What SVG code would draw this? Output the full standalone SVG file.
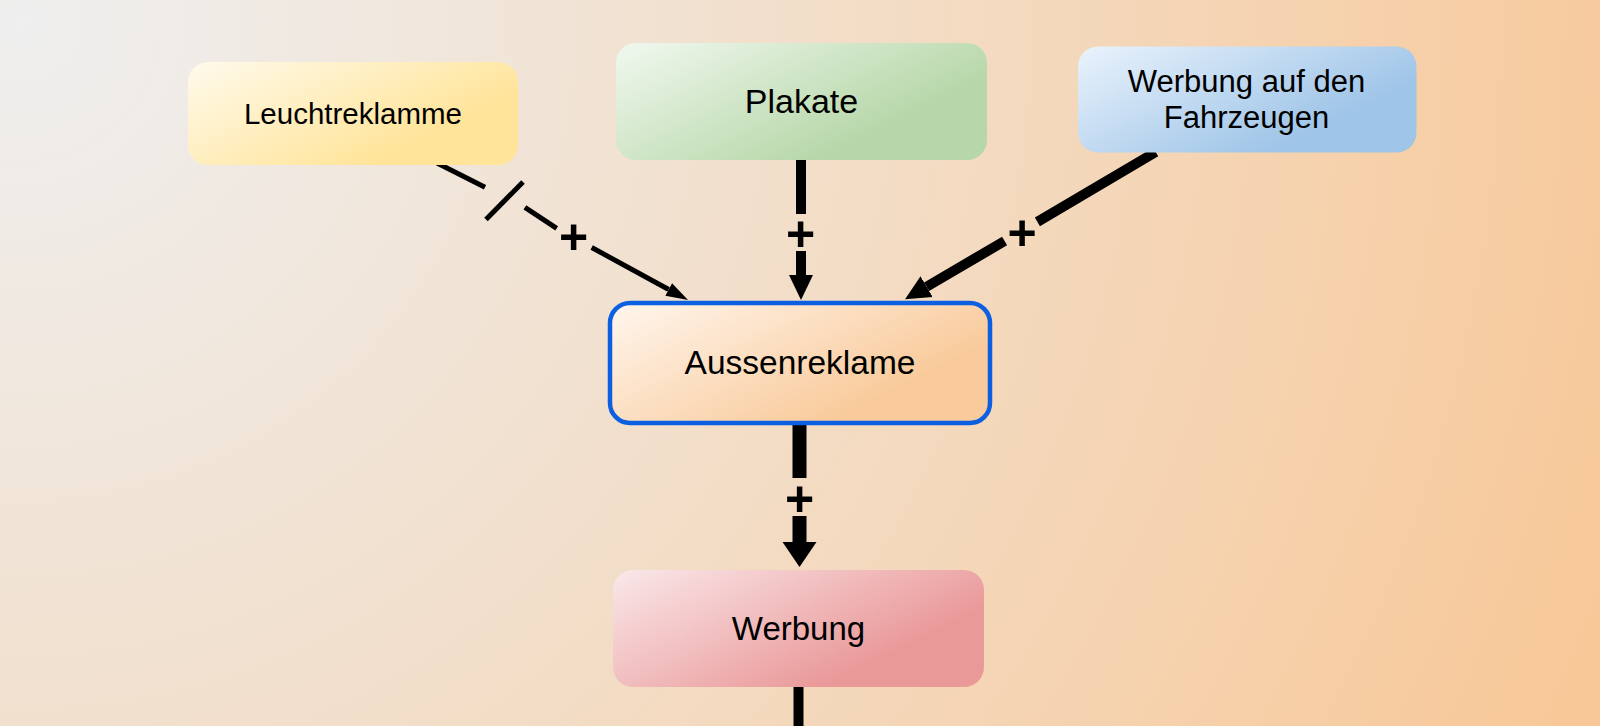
<svg xmlns="http://www.w3.org/2000/svg" width="1600" height="726" viewBox="0 0 1600 726">
  <defs>
    <radialGradient id="bg" gradientUnits="userSpaceOnUse" cx="20" cy="20" r="1700">
      <stop offset="0" stop-color="#efefef"/>
      <stop offset="0.45" stop-color="#f2dfcb"/>
      <stop offset="1" stop-color="#f8c898"/>
    </radialGradient>
    <linearGradient id="gYellow" x1="0" y1="0" x2="0.85" y2="0.55">
      <stop offset="0" stop-color="#fffaec"/>
      <stop offset="1" stop-color="#ffe499"/>
    </linearGradient>
    <linearGradient id="gGreen" x1="0" y1="0" x2="0.85" y2="0.55">
      <stop offset="0" stop-color="#f1f8ef"/>
      <stop offset="1" stop-color="#b6d7a8"/>
    </linearGradient>
    <linearGradient id="gBlue" x1="0" y1="0" x2="0.85" y2="0.55">
      <stop offset="0" stop-color="#eaf3fc"/>
      <stop offset="1" stop-color="#9fc5e8"/>
    </linearGradient>
    <linearGradient id="gOrange" x1="0" y1="0" x2="0.85" y2="0.55">
      <stop offset="0" stop-color="#fff6ee"/>
      <stop offset="1" stop-color="#f9cb9c"/>
    </linearGradient>
    <linearGradient id="gRed" x1="0" y1="0" x2="0.85" y2="0.55">
      <stop offset="0" stop-color="#fae8ea"/>
      <stop offset="1" stop-color="#ea9999"/>
    </linearGradient>
    <marker id="aThin" markerUnits="userSpaceOnUse" markerWidth="24" markerHeight="16" refX="0" refY="7" orient="auto" viewBox="0 0 24 14">
      <path d="M0,0 L22,7 L0,14 Z" fill="#000"/>
    </marker>
    <marker id="aMed" markerUnits="userSpaceOnUse" markerWidth="26" markerHeight="26" refX="0" refY="12" orient="auto" viewBox="0 0 26 24">
      <path d="M0,0 L25,12 L0,24 Z" fill="#000"/>
    </marker>
    <marker id="aBig" markerUnits="userSpaceOnUse" markerWidth="26" markerHeight="36" refX="0" refY="17" orient="auto" viewBox="0 0 26 34">
      <path d="M0,0 L25,17 L0,34 Z" fill="#000"/>
    </marker>
  </defs>
  <style>
    .node-text { font-family: "Liberation Sans", Arial, sans-serif; fill: #000; text-anchor: middle; }
    .plus { font-family: "Liberation Sans", Arial, sans-serif; font-weight: bold; font-size: 50px; fill: #000; text-anchor: middle; }
    .link { fill: none; stroke: #000; stroke-linecap: butt; }
  </style>

  <rect x="0" y="0" width="1600" height="726" fill="url(#bg)"/>

  <g id="connectors">
    <g id="c-leucht">
      <path class="link" stroke-width="5" d="M437,163 L485,187.2 M524.9,207.4 L556.7,228.3 M591.7,247.5 L668.7,289.5" marker-end="url(#aThin)"/>
      <path class="link" stroke-width="5" d="M486,219.5 L523,182"/>
      <text class="plus" x="573.5" y="254">+</text>
    </g>
    <g id="c-plakate">
      <path class="link" stroke-width="10" d="M801,158 V214 M801,251 V275" marker-end="url(#aMed)"/>
      <text class="plus" x="800.5" y="250.5">+</text>
    </g>
    <g id="c-fahrzeuge">
      <path class="link" stroke-width="10" d="M1155.7,152 L1037.4,221.9 M1004.6,241 L926.6,286.7" marker-end="url(#aMed)"/>
      <text class="plus" x="1022" y="249.5">+</text>
    </g>
    <g id="c-aussen">
      <path class="link" stroke-width="14" d="M799.5,425 V478 M799.5,516 V542" marker-end="url(#aBig)"/>
      <text class="plus" x="799.5" y="515.5">+</text>
    </g>
    <g id="c-werbung">
      <path class="link" stroke-width="10" d="M798.5,686 V726"/>
    </g>
  </g>

  <g id="node-leuchtreklamme">
    <rect x="188" y="62" width="330" height="103" rx="20" fill="url(#gYellow)"/>
    <text class="node-text" x="353" y="124" font-size="29.5">Leuchtreklamme</text>
  </g>
  <g id="node-plakate">
    <rect x="616" y="43" width="371" height="117" rx="20" fill="url(#gGreen)"/>
    <text class="node-text" x="801.5" y="113" font-size="34">Plakate</text>
  </g>
  <g id="node-fahrzeuge">
    <rect x="1078" y="46.5" width="338.5" height="106" rx="20" fill="url(#gBlue)"/>
    <text class="node-text" x="1246.5" y="91.7" font-size="31">Werbung auf den</text>
    <text class="node-text" x="1246.5" y="127.5" font-size="31">Fahrzeugen</text>
  </g>
  <g id="node-aussenreklame">
    <rect x="610" y="303" width="380" height="120" rx="20" fill="url(#gOrange)" stroke="#0b5fe0" stroke-width="4.5"/>
    <text class="node-text" x="800" y="373.5" font-size="33.5">Aussenreklame</text>
  </g>
  <g id="node-werbung">
    <rect x="613" y="570" width="371" height="117" rx="20" fill="url(#gRed)"/>
    <text class="node-text" x="798.5" y="640" font-size="33">Werbung</text>
  </g>
</svg>
